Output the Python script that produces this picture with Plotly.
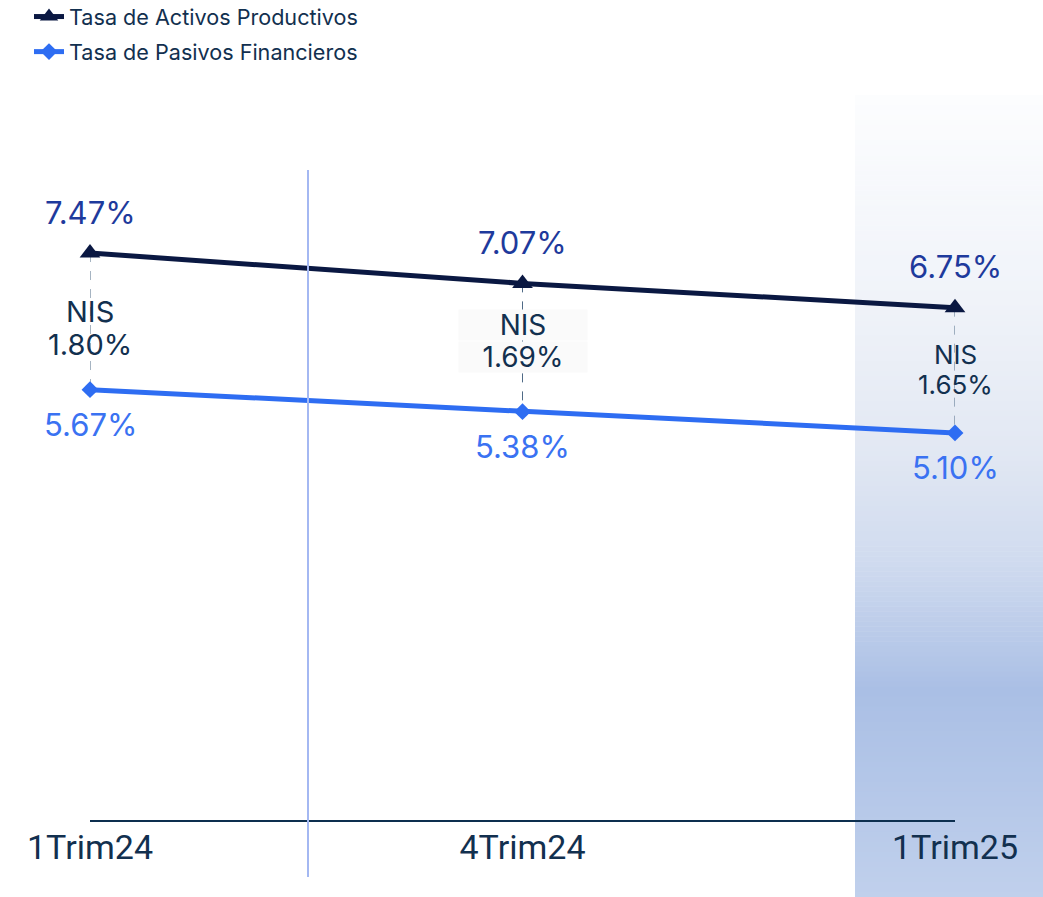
import plotly.graph_objects as go

categories = ["1Trim24", "4Trim24", "1Trim25"]
activos = [7.47, 7.07, 6.75]
pasivos = [5.67, 5.38, 5.10]
nis = [1.80, 1.69, 1.65]
series_names = ["Tasa de Activos Productivos", "Tasa de Pasivos Financieros"]

C_ACT = "#0a1842"
C_PAS = "#2e6df2"
C_ACT_LBL = "#1e3a9c"
C_PAS_LBL = "#3a72f2"
C_TXT = "#12304f"
FONT = "Inter"

W, H = 1043, 897
# plot area in screen pixels: x 90..955, y 95..820
SX0, SX1, SY0, SY1 = 90, 955, 95, 820
ML, MR, MT, MB = SX0, W - SX1, SY0, H - SY1
ph = SY1 - SY0
pw = SX1 - SX0

def sy2paper(sy):
    return (SY1 - sy) / ph

def sx2paper(sx):
    return (sx - SX0) / pw

fig = go.Figure()

# gradient band (decorative background) on the right
stops = [(95, (252, 253, 254)), (300, (240, 243, 249)), (450, (226, 232, 243)),
         (560, (208, 219, 239)), (690, (170, 191, 229)), (897, (192, 208, 236))]
def col_at(py):
    for (a, ca), (b, cb) in zip(stops[:-1], stops[1:]):
        if a <= py <= b:
            t = (py - a) / (b - a)
            return "rgb(%d,%d,%d)" % tuple(round(ca[i] + (cb[i] - ca[i]) * t) for i in range(3))
    return "rgb(%d,%d,%d)" % stops[-1][1]

n = 160
top, bot = 95, 897
shapes = []
for i in range(n):
    a = top + (bot - top) * i / n
    b = top + (bot - top) * (i + 1) / n
    shapes.append(dict(type="rect", xref="paper", yref="paper", x0=sx2paper(855), x1=sx2paper(1043),
                       y0=sy2paper(b + 0.5), y1=sy2paper(a), fillcolor=col_at((a + b) / 2),
                       line=dict(width=0), layer="below"))
# vertical separator
shapes.append(dict(type="line", xref="paper", yref="paper", x0=sx2paper(308), x1=sx2paper(308),
                   y0=sy2paper(877), y1=sy2paper(170), line=dict(color="#a4b8f2", width=2)))

# dashed NIS connectors
for i, c in enumerate(categories):
    fig.add_trace(go.Scatter(x=[c, c], y=[activos[i], pasivos[i]], mode="lines",
                             line=dict(color="#4f6a86", width=1, dash="dash"),
                             showlegend=False, hoverinfo="skip", cliponaxis=False))

fig.add_trace(go.Scatter(x=categories, y=activos, name=series_names[0], mode="lines+markers",
                         legendgroup="a", cliponaxis=False,
                         line=dict(color=C_ACT, width=5),
                         marker=dict(symbol="triangle-up", size=18, color=C_ACT)))
fig.add_trace(go.Scatter(x=categories, y=pasivos, name=series_names[1], mode="lines+markers",
                         legendgroup="b", cliponaxis=False,
                         line=dict(color=C_PAS, width=5),
                         marker=dict(symbol="diamond", size=13, color=C_PAS)))

annotations = []
nis_sizes = [29, 28, 26]
nis_heights = [31, 30, 28]
nis_title_shift = [10, 22.5, 16.5]
nis_value_shift = [-23, -9.5, -13.5]
for i, c in enumerate(categories):
    annotations.append(dict(x=c, y=activos[i], text=f"{activos[i]:.2f}%", showarrow=False,
                            yanchor="middle", yshift=41,
                            font=dict(family=FONT, size=31, color=C_ACT_LBL)))
    annotations.append(dict(x=c, y=pasivos[i], text=f"{pasivos[i]:.2f}%", showarrow=False,
                            yanchor="middle", yshift=-35,
                            font=dict(family=FONT, size=31, color=C_PAS_LBL)))
    mid = (activos[i] + pasivos[i]) / 2
    box = dict(bgcolor="#fafafa", width=128) if i == 1 else {}
    annotations.append(dict(x=c, y=mid, text="NIS", showarrow=False, yanchor="middle",
                            yshift=nis_title_shift[i], height=nis_heights[i], borderpad=0,
                            font=dict(family=FONT, size=nis_sizes[i], color=C_TXT), **box))
    annotations.append(dict(x=c, y=mid, text=f"{nis[i]:.2f}%", showarrow=False, yanchor="middle",
                            yshift=nis_value_shift[i], height=nis_heights[i], borderpad=0,
                            font=dict(family=FONT, size=nis_sizes[i], color=C_TXT), **box))

fig.update_layout(
    width=W, height=H,
    margin=dict(l=ML, r=MR, t=MT, b=MB, autoexpand=False),
    plot_bgcolor="rgba(0,0,0,0)", paper_bgcolor="white",
    shapes=shapes, annotations=annotations,
    showlegend=True,
    legend=dict(x=sx2paper(29), y=sy2paper(-4), xanchor="left", yanchor="top",
                traceorder="grouped", tracegroupgap=4,
                font=dict(family=FONT, size=21.6, color=C_TXT), bgcolor="rgba(0,0,0,0)"),
    xaxis=dict(type="category", range=[0, 2], showgrid=False, zeroline=False,
               showline=True, linecolor="#0d2f4f", linewidth=2, ticklabelstandoff=-4,
               ticks="", tickfont=dict(family="Roboto", size=34, color=C_TXT)),
    yaxis=dict(range=[0, ph / 75.9], visible=False, showgrid=False, zeroline=False),
    hovermode=False,
)

fig.write_html("out.html", config={"displayModeBar": False},
               post_script="document.body.style.margin='0';")
